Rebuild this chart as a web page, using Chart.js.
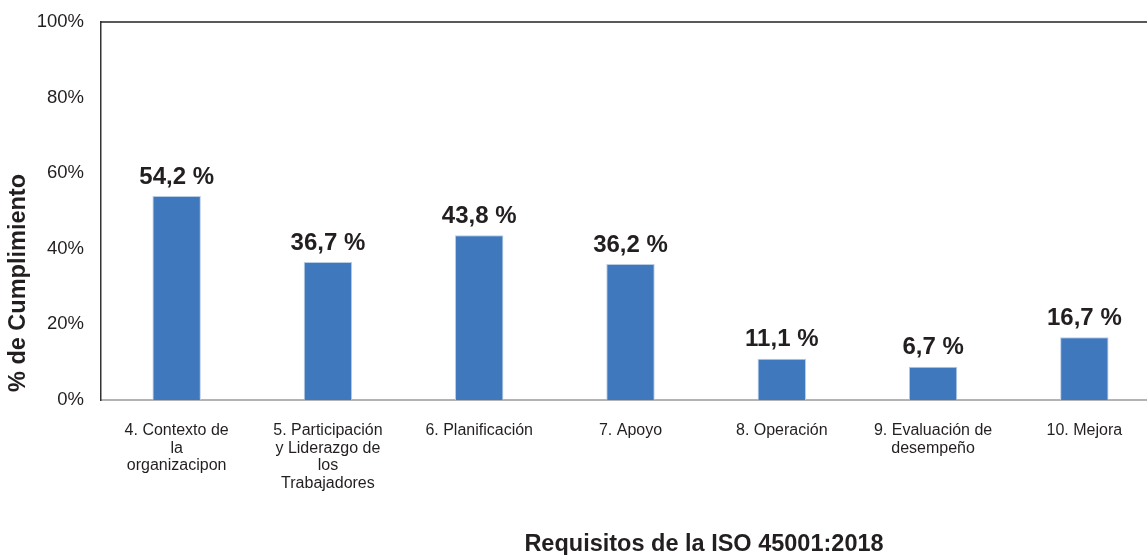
<!DOCTYPE html>
<html>
<head>
<meta charset="utf-8">
<script src="https://cdn.jsdelivr.net/npm/chart.js@4/dist/chart.umd.min.js"></script>
<style>
html,body{margin:0;padding:0;background:#fff;overflow:hidden;}
#wrap{width:1170px;height:555px;position:relative;}
</style>
</head>
<body>
<div id="wrap"><canvas id="c" width="1170" height="555"></canvas></div>
<script>
const categories = [
  ["4. Contexto de", "la", "organizacipon"],
  ["5. Participación", "y Liderazgo de", "los", "Trabajadores"],
  ["6. Planificación"],
  ["7. Apoyo"],
  ["8. Operación"],
  ["9. Evaluación de", "desempeño"],
  ["10. Mejora"]
];
const barValues = [54.0, 36.5, 43.6, 36.0, 10.9, 8.8, 16.6];
const valueLabels = ["54,2 %", "36,7 %", "43,8 %", "36,2 %", "11,1 %", "6,7 %", "16,7 %"];
const yTicks = [0, 20, 40, 60, 80, 100];
const yTitle = "% de Cumplimiento";
const xTitle = "Requisitos de la ISO 45001:2018";

const FONT = "Arial, 'Liberation Sans', sans-serif";

const decor = {
  id: 'decor',
  afterDatasetsDraw(chart) {
    const ctx = chart.ctx;
    const ca = chart.chartArea;
    ctx.save();
    ctx.strokeStyle = '#222';
    ctx.lineWidth = 1.5;
    ctx.beginPath();
    ctx.moveTo(ca.left, ca.top);
    ctx.lineTo(ca.right + 20, ca.top);
    ctx.stroke();
    const meta = chart.getDatasetMeta(0);
    ctx.fillStyle = '#231f20';
    ctx.font = 'bold 24px ' + FONT;
    ctx.textAlign = 'center';
    ctx.textBaseline = 'bottom';
    meta.data.forEach((bar, i) => {
      ctx.fillText(valueLabels[i], bar.x, bar.y - 7);
    });
    ctx.save();
    ctx.translate(19, 283);
    ctx.rotate(-Math.PI / 2);
    ctx.font = 'bold 23.5px ' + FONT;
    ctx.textBaseline = 'middle';
    ctx.textAlign = 'center';
    ctx.fillText(yTitle, 0, 0);
    ctx.restore();
    ctx.font = 'bold 23.5px ' + FONT;
    ctx.textAlign = 'center';
    ctx.textBaseline = 'middle';
    ctx.fillText(xTitle, 704, 545);
    ctx.restore();
  }
};

new Chart(document.getElementById('c'), {
  type: 'bar',
  data: {
    labels: categories,
    datasets: [{
      data: barValues,
      backgroundColor: '#3f78bc',
      borderColor: '#b9cce6',
      borderWidth: 1,
      barPercentage: 0.32,
      categoryPercentage: 1.0
    }]
  },
  options: {
    responsive: false,
    animation: false,
    devicePixelRatio: 1,
    layout: { padding: { top: 22, right: 10, left: 0, bottom: 0 } },
    plugins: { legend: { display: false }, tooltip: { enabled: false }, title: { display: false } },
    scales: {
      x: {
        grid: { display: false, drawTicks: false },
        border: { display: true, color: '#b3b3b3', width: 2 },
        ticks: {
          color: '#231f20',
          font: { family: FONT, size: 16, lineHeight: 1.1 },
          padding: 22,
          maxRotation: 0,
          autoSkip: false
        },
        afterFit(scale) { scale.height = 155; scale.paddingLeft = 0; scale.paddingRight = 0; }
      },
      y: {
        min: 0,
        max: 100,
        afterBuildTicks(scale) { scale.ticks = yTicks.map(v => ({ value: v })); },
        grid: { display: false, drawTicks: false },
        border: { display: true, color: '#333', width: 1.5 },
        ticks: {
          color: '#231f20',
          font: { family: FONT, size: 18.5 },
          padding: 17,
          callback: v => v + '%'
        },
        afterFit(scale) { scale.width = 101; scale.paddingTop = 0; scale.paddingBottom = 0; }
      }
    }
  },
  plugins: [decor]
});
</script>
</body>
</html>
